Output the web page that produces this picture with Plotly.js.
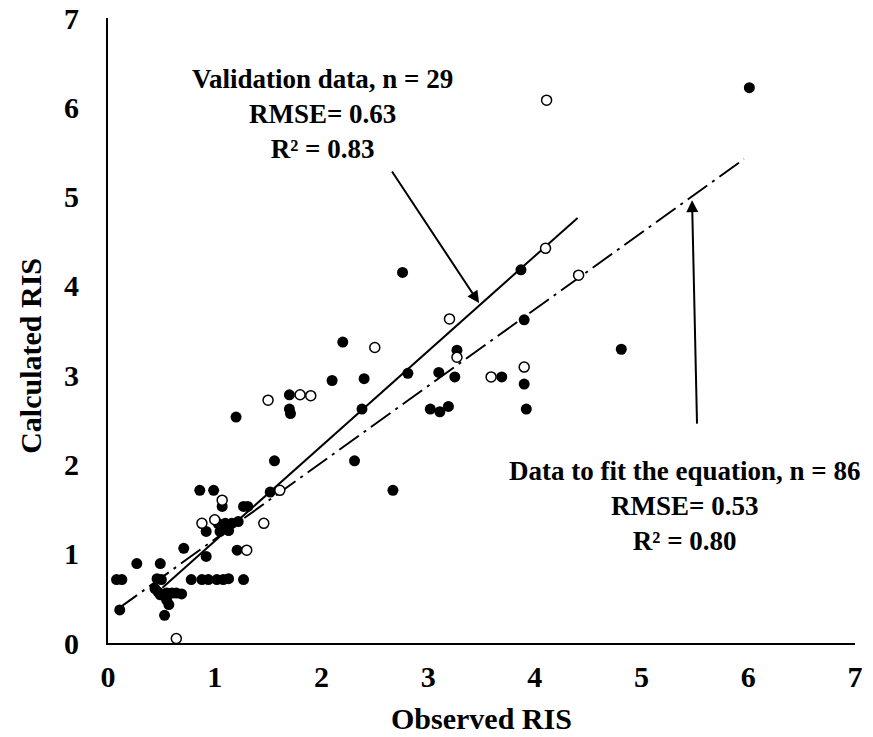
<!DOCTYPE html>
<html>
<head>
<meta charset="utf-8">
<script src="https://cdn.plot.ly/plotly-3.0.1.min.js"></script>
<style>
  html, body { margin: 0; padding: 0; background: #ffffff; }
  #chart { width: 873px; height: 737px; }
</style>
</head>
<body>
<div id="chart"></div>
<script>
// Observed vs calculated RIS — data used to fit the equation (filled circles)
const fitObserved = [
  0.86, 0.99, 1.07, 1.27, 1.31, 1.52,
  1.03, 1.10, 1.16, 1.22, 0.92, 1.05, 1.13,
  0.71, 1.21, 0.92, 0.27, 0.49,
  0.08, 0.13, 0.46, 0.50,
  0.78, 0.88, 0.94, 1.02, 1.08, 1.13, 1.27,
  0.44, 0.47, 0.49, 0.55, 0.60, 0.64, 0.69,
  0.55, 0.57, 0.53, 0.11,
  1.20, 1.56, 2.31, 2.67,
  1.70, 1.70, 1.71,
  2.10, 2.40, 2.38, 2.20,
  2.76, 2.81, 3.10, 3.25, 3.27, 3.69,
  3.02, 3.11, 3.19,
  3.87, 3.90, 3.90, 3.92,
  4.81, 6.01
];
const fitCalculated = [
  1.71, 1.71, 1.53, 1.53, 1.53, 1.69,
  1.34, 1.34, 1.34, 1.36, 1.25, 1.25, 1.26,
  1.06, 1.04, 0.97, 0.89, 0.89,
  0.71, 0.71, 0.72, 0.71,
  0.71, 0.71, 0.71, 0.71, 0.71, 0.72, 0.71,
  0.61, 0.57, 0.54, 0.56, 0.56, 0.56, 0.55,
  0.48, 0.43, 0.31, 0.37,
  2.53, 2.04, 2.04, 1.71,
  2.78, 2.62, 2.57,
  2.94, 2.96, 2.62, 3.37,
  4.15, 3.02, 3.03, 2.98, 3.28, 2.98,
  2.62, 2.59, 2.65,
  4.18, 3.62, 2.90, 2.62,
  3.29, 6.22
];

// Validation data (open circles)
const valObserved = [
  1.07, 0.88, 1.00, 1.46, 1.30, 0.64,
  1.50, 1.80, 1.90, 1.61,
  2.50, 3.20, 3.27, 3.59, 3.90,
  4.10, 4.41, 4.11
];
const valCalculated = [
  1.60, 1.34, 1.38, 1.34, 1.04, 0.05,
  2.72, 2.78, 2.77, 1.71,
  3.31, 3.63, 3.20, 2.98, 3.09,
  4.42, 4.12, 6.08
];

// Regression line end points
const valLineX = [0.51, 4.40];
const valLineY = [0.62, 4.76];
const fitLineX = [0.09, 5.96];
const fitLineY = [0.38, 5.42];

// Axis ticks
const tickValues = [0, 1, 2, 3, 4, 5, 6, 7];
const tickLabels = ['0', '1', '2', '3', '4', '5', '6', '7'];

// Statistics text
const valLabel = ['Validation data, n = 29', 'RMSE= 0.63', 'R² = 0.83'];
const fitLabel = ['Data to fit the equation, n = 86', 'RMSE= 0.53', 'R² = 0.80'];

const serif = '"Liberation Serif", "Times New Roman", serif';

const traces = [
  {
    x: fitLineX, y: fitLineY, mode: 'lines', type: 'scatter',
    line: { color: '#000', width: 2, dash: '24px,6px,3px,6px' },
    hoverinfo: 'skip', showlegend: false
  },
  {
    x: valLineX, y: valLineY, mode: 'lines', type: 'scatter',
    line: { color: '#000', width: 2 },
    hoverinfo: 'skip', showlegend: false
  },
  {
    x: fitObserved, y: fitCalculated, mode: 'markers', type: 'scatter',
    marker: { symbol: 'circle', size: 11, color: '#000', line: { width: 0 } },
    showlegend: false
  },
  {
    x: valObserved, y: valCalculated, mode: 'markers', type: 'scatter',
    marker: { symbol: 'circle', size: 10, color: '#fff', line: { color: '#000', width: 1.5 } },
    showlegend: false
  }
];

const axisCommon = {
  range: [0, 7],
  tickmode: 'array',
  tickvals: tickValues,
  ticktext: tickLabels,
  showgrid: false,
  zeroline: false,
  showline: true,
  linecolor: '#000',
  linewidth: 2,
  ticks: '',
  tickfont: { family: serif, size: 30, weight: 'bold', color: '#000' },
  fixedrange: true
};

const layout = {
  width: 873,
  height: 737,
  margin: { l: 108, r: 18, t: 18, b: 94 },
  paper_bgcolor: '#fff',
  plot_bgcolor: '#fff',
  xaxis: Object.assign({}, axisCommon, { ticklabelstandoff: 6 }),
  yaxis: Object.assign({}, axisCommon, { ticklabelstandoff: 21 }),
  annotations: [
    {
      text: 'Observed RIS', xref: 'paper', yref: 'paper', x: 0.5, y: -0.12,
      xanchor: 'center', yanchor: 'middle', showarrow: false,
      font: { family: serif, size: 30, weight: 'bold', color: '#000' }
    },
    {
      text: 'Calculated RIS', xref: 'paper', yref: 'paper', x: -0.104, y: 0.46,
      xanchor: 'center', yanchor: 'middle', showarrow: false, textangle: -90,
      font: { family: serif, size: 30, weight: 'bold', color: '#000' }
    },
    {
      text: valLabel.join('<br>'), xref: 'x', yref: 'y', x: 2.01, y: 5.92,
      xanchor: 'center', yanchor: 'middle', align: 'center', showarrow: false,
      font: { family: serif, size: 27, weight: 'bold', color: '#000' }
    },
    {
      text: fitLabel.join('<br>'), xref: 'x', yref: 'y', x: 5.40, y: 1.53,
      xanchor: 'center', yanchor: 'middle', align: 'center', showarrow: false,
      font: { family: serif, size: 27, weight: 'bold', color: '#000' }
    },
    {
      text: '', x: 3.477, y: 3.807, xref: 'x', yref: 'y',
      ax: 2.652, ay: 5.297, axref: 'x', ayref: 'y',
      showarrow: true, arrowhead: 2, arrowsize: 1.2, arrowwidth: 2, arrowcolor: '#000'
    },
    {
      text: '', x: 5.473, y: 4.96, xref: 'x', yref: 'y',
      ax: 5.52, ay: 2.44, axref: 'x', ayref: 'y',
      showarrow: true, arrowhead: 2, arrowsize: 1.2, arrowwidth: 2, arrowcolor: '#000'
    }
  ]
};

Plotly.newPlot('chart', traces, layout, { displayModeBar: false, staticPlot: true });
</script>
</body>
</html>
